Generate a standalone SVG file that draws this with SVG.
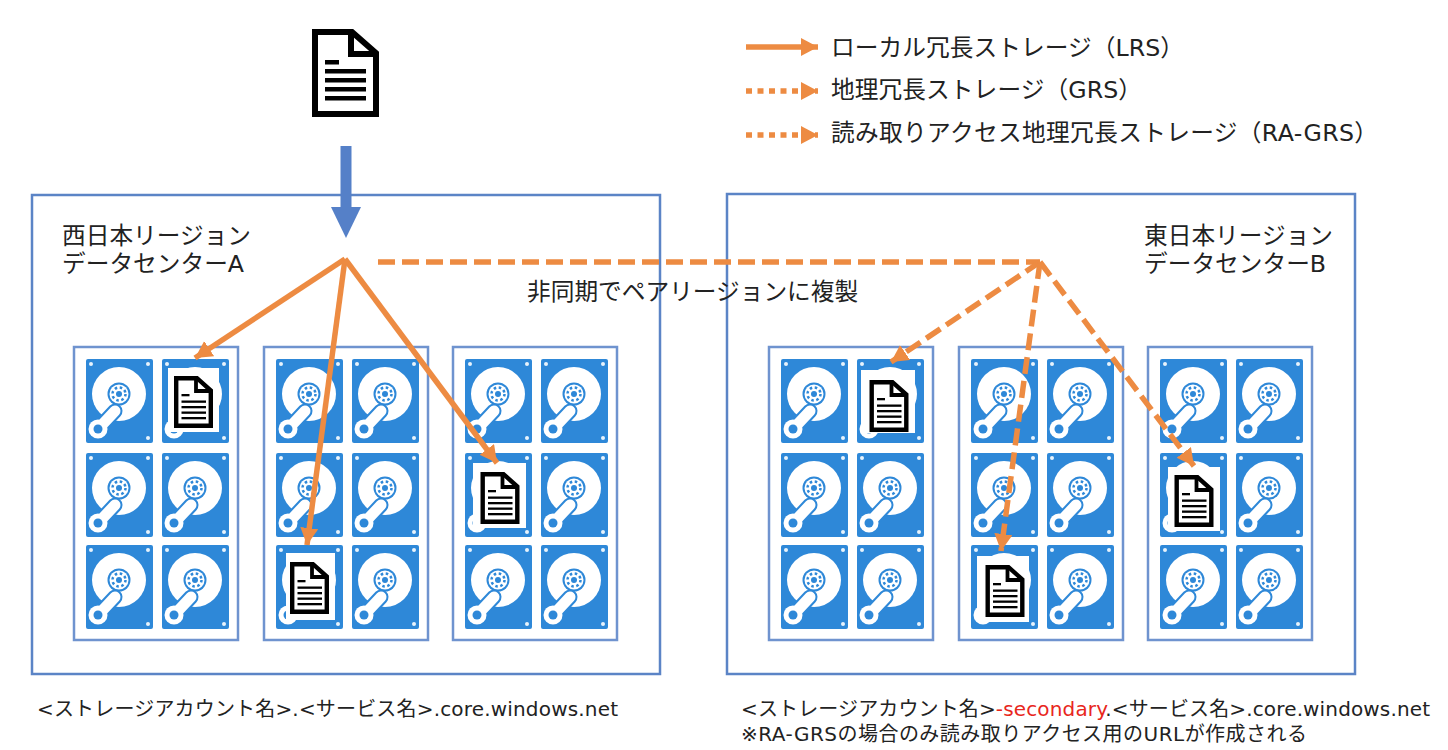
<svg xmlns="http://www.w3.org/2000/svg" xmlns:xlink="http://www.w3.org/1999/xlink" width="1448" height="750" viewBox="0 0 1448 750">
<style>
text{font-family:"DejaVu Sans","Noto Sans CJK JP",sans-serif;font-size:23.700px;fill:#222}
.small{font-size:20px}
.region{fill:none;stroke:#5b84c6;stroke-width:2.500}
.rack{fill:none;stroke:#6f93cf;stroke-width:2.500}
.arrow{stroke:#ed8b42;stroke-width:5.500;fill:none}
.dash{stroke-dasharray:17 7}
.dot{stroke-dasharray:6 5.500}
</style>
<defs>
<marker id="head" markerUnits="userSpaceOnUse" markerWidth="20" markerHeight="20" refX="17" refY="9" orient="auto"><path d="M0 0L17 9L0 18Z" fill="#ed8b42"/></marker>
<symbol id="disk" viewBox="0 0 67 84" overflow="visible">
<rect width="67" height="84" rx="2" fill="#2e88d8"/>
<g fill="#e8f3fc"><circle cx="5" cy="5" r="2"/><circle cx="62" cy="5" r="2"/><circle cx="62" cy="79" r="2"/></g>
<circle cx="33" cy="35" r="27" fill="#fff"/>
<circle cx="33" cy="35" r="11.500" fill="#2e88d8"/>
<circle cx="33" cy="35" r="9.500" fill="#fff"/>
<circle cx="33" cy="35" r="6.500" fill="none" stroke="#2e88d8" stroke-width="2.500" stroke-dasharray="2.500 2.600"/>
<circle cx="33" cy="35" r="3" fill="#2e88d8"/>
<path d="M29 52L14 68" stroke="#2e88d8" stroke-width="15" stroke-linecap="round"/>
<path d="M29 52L14 68" stroke="#fff" stroke-width="11" stroke-linecap="round"/>
<circle cx="12" cy="70" r="9.500" fill="#fff"/>
<circle cx="12" cy="70" r="4.500" fill="#2e88d8"/>
</symbol>
<symbol id="doc" viewBox="0 0 67 88">
<path d="M3 3H40L64 24V85H3Z" fill="#fff" stroke="#000" stroke-width="6"/>
<path d="M39 3V25H64" fill="none" stroke="#000" stroke-width="6"/>
<g fill="#000"><rect x="13" y="31" width="14" height="4.500"/><rect x="13" y="40" width="41" height="4.500"/><rect x="13" y="49" width="41" height="4.500"/><rect x="13" y="58" width="41" height="4.500"/><rect x="13" y="67" width="41" height="4.500"/></g>
</symbol>
<symbol id="docS" viewBox="0 0 39 52">
<path d="M2.200 2.200H23L36.800 14.500V49.800H2.200Z" fill="#fff" stroke="#000" stroke-width="4.400"/>
<path d="M22 3V15H37" fill="none" stroke="#000" stroke-width="3.800"/>
<g fill="#000"><rect x="7.500" y="18" width="8" height="2.300"/><rect x="7.500" y="24.500" width="24.500" height="2.300"/><rect x="7.500" y="30" width="24.500" height="2.300"/><rect x="7.500" y="35.500" width="24.500" height="2.300"/><rect x="7.500" y="41" width="24.500" height="2.300"/></g>
</symbol>
<g id="rackDisks">
<use xlink:href="#disk" href="#disk" x="12" y="12" width="67" height="84"/><use xlink:href="#disk" href="#disk" x="88" y="12" width="67" height="84"/>
<use xlink:href="#disk" href="#disk" x="12" y="106" width="67" height="84"/><use xlink:href="#disk" href="#disk" x="88" y="106" width="67" height="84"/>
<use xlink:href="#disk" href="#disk" x="12" y="198" width="67" height="84"/><use xlink:href="#disk" href="#disk" x="88" y="198" width="67" height="84"/>
<rect width="164" height="293" class="rack"/>
</g>
</defs>

<g id="region-a"><rect x="32" y="195" width="628" height="479" class="region"/>
<text x="62" y="244">西日本リージョン</text><text x="62" y="272">データセンターA</text></g>
<g id="region-b"><rect x="727" y="194" width="628" height="480" class="region"/>
<text x="1144" y="244">東日本リージョン</text><text x="1144" y="272">データセンターB</text></g>

<g id="rack-a1"><use xlink:href="#rackDisks" href="#rackDisks" x="74" y="347"/></g>
<g id="rack-a2"><use xlink:href="#rackDisks" href="#rackDisks" x="264" y="347"/></g>
<g id="rack-a3"><use xlink:href="#rackDisks" href="#rackDisks" x="453" y="347"/></g>
<g id="rack-b1"><use xlink:href="#rackDisks" href="#rackDisks" x="769" y="347"/></g>
<g id="rack-b2"><use xlink:href="#rackDisks" href="#rackDisks" x="959" y="347"/></g>
<g id="rack-b3"><use xlink:href="#rackDisks" href="#rackDisks" x="1148" y="347"/></g>

<g id="source-doc"><use xlink:href="#doc" href="#doc" x="312" y="29" width="67" height="88"/></g>
<g id="doc-a1"><rect x="168" y="368" width="51" height="64" fill="#fff"/><use xlink:href="#docS" href="#docS" x="174" y="376" width="39" height="52"/></g>
<g id="doc-a2"><rect x="286" y="553" width="49" height="67" fill="#fff"/><use xlink:href="#docS" href="#docS" x="290" y="562" width="39" height="52"/></g>
<g id="doc-a3"><rect x="473" y="463" width="53" height="65" fill="#fff"/><use xlink:href="#docS" href="#docS" x="480" y="472" width="40" height="52"/></g>
<g id="doc-b1"><rect x="861" y="370" width="54" height="63" fill="#fff"/><use xlink:href="#docS" href="#docS" x="869" y="380" width="40" height="52"/></g>
<g id="doc-b2"><rect x="977" y="556" width="52" height="66" fill="#fff"/><use xlink:href="#docS" href="#docS" x="985" y="565" width="40" height="52"/></g>
<g id="doc-b3"><rect x="1168" y="467" width="52" height="64" fill="#fff"/><use xlink:href="#docS" href="#docS" x="1174" y="475" width="40" height="52"/></g>

<g id="connectors">
<path d="M346 146V207" stroke="#5580c8" stroke-width="11" fill="none"/>
<path d="M331 207H361L346 238Z" fill="#5580c8"/>
<path class="arrow" d="M345 259L195 358" marker-end="url(#head)"/>
<path class="arrow" d="M345 259L307 545" marker-end="url(#head)"/>
<path class="arrow" d="M345 259L497 463" marker-end="url(#head)"/>
<path class="arrow dash" d="M378 262H1040"/>
<path class="arrow dash" d="M1040 262L891 362" marker-end="url(#head)"/>
<path class="arrow dash" d="M1040 262L1001 551" marker-end="url(#head)"/>
<path class="arrow dash" d="M1040 262L1194 466" marker-end="url(#head)"/>
<path class="arrow" d="M746 47H818" marker-end="url(#head)"/>
<path class="arrow dot" d="M746 91H818" marker-end="url(#head)"/>
<path class="arrow dot" d="M746 135H818" marker-end="url(#head)"/>
</g>

<g id="legend">
<text x="831" y="56" textLength="353">ローカル冗長ストレージ（LRS）</text>
<text x="831" y="98" textLength="311">地理冗長ストレージ（GRS）</text>
<text x="831" y="141" textLength="547">読み取りアクセス地理冗長ストレージ（RA-GRS）</text>
</g>
<text id="replicate-label" x="527" y="300">非同期でペアリージョンに複製</text>
<g id="endpoints">
<text class="small" x="37" y="716" textLength="581">&lt;ストレージアカウント名&gt;.&lt;サービス名&gt;.core.windows.net</text>
<text class="small" x="741" y="716" textLength="689">&lt;ストレージアカウント名&gt;<tspan fill="#e8261c">-secondary</tspan>.&lt;サービス名&gt;.core.windows.net</text>
<text class="small" x="741" y="741" textLength="566">※RA-GRSの場合のみ読み取りアクセス用のURLが作成される</text>
</g>
</svg>
